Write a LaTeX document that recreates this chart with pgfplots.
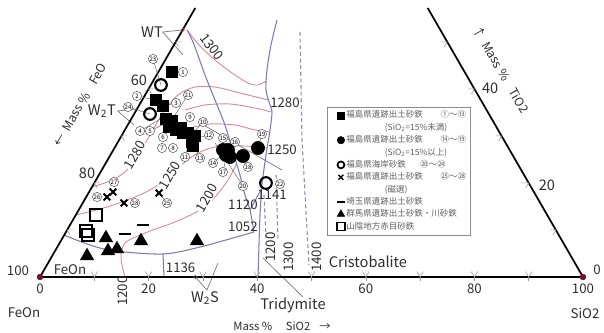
\documentclass[border=0pt]{standalone}
\usepackage{fontspec}
\setmainfont{Noto Sans CJK JP}
\usepackage{pgfplots}
\pgfplotsset{compat=1.18}
\definecolor{pinkc}{RGB}{214,140,150}
\definecolor{bluec}{RGB}{120,124,180}
\definecolor{dashc}{RGB}{140,140,175}
\definecolor{vtx}{RGB}{110,20,40}
\definecolor{tickc}{RGB}{150,150,150}
\definecolor{txt}{RGB}{45,45,45}
\newcommand\fA{\fontsize{10}{12}\selectfont}
\newcommand\fB{\fontsize{11}{13}\selectfont}
\newcommand\fC{\fontsize{8.5}{10}\selectfont}
\newcommand\fD{\fontsize{9.2}{11}\selectfont}
\tikzset{
 lab/.style={font=\fA, text=txt, inner sep=0pt},
 cn/.style={circle, draw=black!70, fill=white, inner sep=0pt, minimum size=7pt, line width=0.35pt, font=\fontsize{4.6}{5}\selectfont},
 ld/.style={black!60, line width=0.35pt},
}
\begin{document}
\begin{tikzpicture}
\useasboundingbox (0,0) rectangle (16cm,8.7947cm);
\begin{axis}[
 at={(0,0)}, anchor=south west,
 width=16cm, height=8.7947cm, scale only axis,
 xmin=-7.366, xmax=103.87, ymin=-10.129, ymax=51.012,
 hide axis, clip=false,
 legend style={at={(axis cs:52.85,31.31)}, anchor=north west, draw=black!45, line width=0.4pt,
   font=\fontsize{6.4}{7}\selectfont, text=black!62, row sep=0.4pt, inner sep=1.8pt,
   nodes={inner sep=1.1pt, text height=5.2pt, text depth=1.5pt}},
 legend cell align=left,
]
% ---- isotherms (pink) ----
\addplot[pinkc, line width=0.7pt, smooth, forget plot] coordinates {(27.07,45.49) (29.47,42.54) (32.23,39.96) (35.36,37.57) (38.31,35.73) (40.15,35.36) (41.62,36.10)};
\addplot[pinkc, line width=0.7pt, smooth, forget plot] coordinates {(9.58,16.57) (12.89,17.68) (15.65,19.34) (18.05,22.47) (20.26,26.15) (22.65,30.20) (25.41,33.52) (28.54,34.99) (32.23,34.99) (36.83,33.89) (41.99,32.60)};
\addplot[pinkc, line width=0.7pt, smooth, forget plot] coordinates {(26.70,30.75) (30.39,31.68) (34.99,31.86) (39.59,31.12) (42.54,30.39)};
\addplot[pinkc, line width=0.7pt, smooth, forget plot] coordinates {(27.62,27.44) (31.31,28.18) (35.91,27.99) (39.59,27.07) (42.36,26.70)};
\addplot[pinkc, line width=0.7pt, smooth, forget plot] coordinates {(6.63,11.42) (11.05,12.52) (15.65,14.00) (20.26,16.02) (23.94,18.60) (26.70,21.18) (29.47,23.02) (33.15,24.12) (37.75,24.12) (41.80,23.76)};
\addplot[pinkc, line width=0.7pt, smooth, forget plot] coordinates {(15.65,0) (14.92,3.50) (15.65,6.26) (19.34,8.10) (24.86,10.13) (29.47,12.34) (32.23,14.73) (34.62,17.86) (36.28,20.99)};
% ---- boundaries (blue) ----
\addplot[bluec, line width=0.8pt, smooth, forget plot] coordinates {(43.65,47.33) (42.54,42.73) (41.80,38.12) (41.62,34.44) (42.36,31.68) (42.73,30.39) (42.36,27.07) (41.62,22.47) (40.88,16.94) (40.52,11.42) (40.33,5.89) (40.15,0)};
\addplot[bluec, line width=0.8pt, smooth, forget plot] coordinates {(27.07,45.49) (28.18,43.28) (30.39,37.20) (32.23,32.60) (34.07,27.99) (35.54,23.02) (36.83,18.78) (37.75,15.10) (38.67,12.34) (39.41,8.29)};
\addplot[bluec, line width=0.8pt, forget plot] coordinates {(38.67,12.34) (40.88,16.39)};
\addplot[bluec, line width=0.8pt, smooth, forget plot] coordinates {(39.41,8.29) (29.47,5.52) (22.65,4.24) (13.81,4.79) (9.21,5.89) (4.42,7.73)};
\addplot[bluec, line width=0.8pt, forget plot] coordinates {(22.65,4.24) (22.84,0)};
% ---- silica isotherms (dashed) ----
\addplot[dashc, line width=0.8pt, dash pattern=on 3pt off 2pt, forget plot] coordinates {(47.88,45.12) (48.25,25.23) (49.54,2.21)};
\addplot[dashc, line width=0.8pt, dash pattern=on 3pt off 2pt, forget plot] coordinates {(43.46,18.78) (43.83,6.81)};
\addplot[dashc, line width=0.8pt, dash pattern=on 3pt off 2pt, forget plot] coordinates {(41.25,15.10) (41.62,7.18)};
% other thin lines
\addplot[black!55, line width=0.5pt, forget plot] coordinates {(41.07,3.50) (48.43,-3.68)};
\addplot[black!55, line width=0.5pt, forget plot] coordinates {(29.47,28.36) (44.57,19.70)};
\addplot[black!55, line width=0.5pt, forget plot] coordinates {(26.26,45.49) (22.6,45.12) (26.33,40.88)};
\addplot[black!55, line width=0.5pt, forget plot] coordinates {(17.68,30.94) (14.3,30.57) (17.31,27.99)};
\addplot[black!55, line width=0.5pt, forget plot] coordinates {(28.6,0) (30.75,-2.39) (32.78,2.58)};
% ---- triangle edges ----
\addplot[black, line width=1.3pt, forget plot] coordinates {(28.6,49.54) (0,0) (100,0) (71.4,49.54)};
\pgfplotsinvokeforeach{10,20,...,90}{
  \draw[tickc, line width=0.4pt] (axis cs:#1-0.6,1.0) -- (axis cs:#1,0) -- (axis cs:#1+0.6,1.0);
  \draw[tickc, line width=0.4pt] (axis cs:#1,0) -- (axis cs:#1,-0.7);
}
\pgfplotsinvokeforeach{10,20,...,50}{
  \draw[tickc, line width=0.4pt] (axis cs:0.5*#1+1.1,0.866*#1) -- (axis cs:0.5*#1,0.866*#1) -- (axis cs:0.5*#1+0.55,0.866*#1-0.95);
  \draw[tickc, line width=0.4pt] (axis cs:100-0.5*#1-1.1,0.866*#1) -- (axis cs:100-0.5*#1,0.866*#1) -- (axis cs:100-0.5*#1-0.55,0.866*#1-0.95);
}
\addplot[only marks, mark=*, mark size=2.2pt, vtx, forget plot] coordinates {(0,0) (100,0)};
\addplot[only marks, mark=o, mark size=1.4pt, pinkc!70!black, forget plot] coordinates {(26.26,45.49) (28.6,0)};
% ---- leader lines ----
\draw[ld] (axis cs:20.81,40.15) -- (axis cs:22.28,35.36);
\draw[ld] (axis cs:26.33,37.75) -- (axis cs:24.30,37.75);
\draw[ld] (axis cs:17.86,33.33) -- (axis cs:21.36,32.60);
\draw[ld] (axis cs:25.05,32.04) -- (axis cs:22.65,31.49);
\draw[ld] (axis cs:27.26,33.52) -- (axis cs:24.86,29.83);
\draw[ld] (axis cs:16.21,31.31) -- (axis cs:20.26,30.02);
\draw[ld] (axis cs:18.42,26.89) -- (axis cs:22.47,29.28);
\draw[ld] (axis cs:20.26,26.89) -- (axis cs:23.57,28.54);
\draw[ld] (axis cs:27.62,29.47) -- (axis cs:26.33,27.44);
\draw[ld] (axis cs:30.02,28.54) -- (axis cs:28.18,26.52);
\draw[ld] (axis cs:31.12,26.15) -- (axis cs:28.91,25.60);
\draw[ld] (axis cs:26.70,22.10) -- (axis cs:27.62,25.60);
\draw[ld] (axis cs:29.47,21.92) -- (axis cs:28.36,24.12);
\draw[ld] (axis cs:23.39,13.63) -- (axis cs:21.91,15.47);
\draw[ld] (axis cs:31.86,20.99) -- (axis cs:33.52,22.47);
\draw[ld] (axis cs:33.70,19.34) -- (axis cs:34.25,21.91);
\draw[ld] (axis cs:38.31,20.26) -- (axis cs:37.38,22.10);
\draw[ld] (axis cs:40.88,26.33) -- (axis cs:40.15,23.76);
\draw[ld] (axis cs:37.38,16.76) -- (axis cs:32.23,24.68);
% ---- data (SiO2 s, TiO2 t in mass %) ----
\addplot[only marks, mark=square*, mark size=4.3pt, black, forget plot] table[x expr=\thisrow{s}+0.5*\thisrow{t}, y expr=0.866*\thisrow{t}] {
s t
2.51 43.59
2.54 37.64
4.47 36.36
6.40 33.60
7.72 33.17
7.81 31.90
9.42 31.26
10.13 31.69
11.03 30.62
11.95 30.62
13.56 29.98
13.64 28.71
14.25 27.86
};
\addplot[only marks, mark=*, mark size=5pt, black, forget plot] table[x expr=\thisrow{s}+0.5*\thisrow{t}, y expr=0.866*\thisrow{t}] {
s t
20.20 27.01
21.28 25.94
22.23 25.52
21.12 27.01
24.51 25.73
26.43 27.43
};
\addplot[only marks, mark=o, mark size=4.4pt, line width=1.6pt, black, mark options={fill=white}, forget plot] table[x expr=\thisrow{s}+0.5*\thisrow{t}, y expr=0.866*\thisrow{t}] {
s t
1.86 40.83
2.93 34.66
31.62 19.99
};
\addplot[only marks, mark=x, mark size=3.6pt, line width=1.4pt, black, forget plot] table[x expr=\thisrow{s}+0.5*\thisrow{t}, y expr=0.866*\thisrow{t}] {
s t
4.40 18.08
3.83 17.01
7.60 15.74
12.99 17.86
};
\addplot[only marks, mark=-, mark size=4.5pt, line width=2.1pt, black, forget plot] table[x expr=\thisrow{s}+0.5*\thisrow{t}, y expr=0.866*\thisrow{t}] {
s t
13.44 11.06
11.08 9.14
};
\addplot[only marks, mark=triangle*, mark size=5.8pt, black, forget plot] table[x expr=\thisrow{s}+0.5*\thisrow{t}, y expr=0.866*\thisrow{t}] {
s t
8.00 8.29
6.43 4.47
9.76 5.53
11.20 5.95
14.77 7.66
25.08 7.66
};
\addplot[only marks, mark=square, mark size=4.5pt, line width=1pt, black, forget plot] table[x expr=\thisrow{s}+0.5*\thisrow{t}, y expr=0.866*\thisrow{t}] {
s t
3.72 13.18
3.58 9.78
4.37 8.93
};
% ---- circled sample numbers ----
\node[cn] at (axis cs:26.33,37.75) {1};
\node[cn] at (axis cs:17.86,33.33) {2};
\node[cn] at (axis cs:25.05,32.04) {3};
\node[cn] at (axis cs:18.42,26.89) {4};
\node[cn] at (axis cs:20.26,26.89) {5};
\node[cn] at (axis cs:22.65,25.78) {6};
\node[cn] at (axis cs:22.47,23.76) {7};
\node[cn] at (axis cs:24.49,23.76) {8};
\node[cn] at (axis cs:27.62,29.47) {9};
\node[cn] at (axis cs:30.02,28.54) {10};
\node[cn] at (axis cs:26.70,22.10) {11};
\node[cn] at (axis cs:31.12,26.15) {12};
\node[cn] at (axis cs:29.47,21.92) {13};
\node[cn] at (axis cs:31.86,20.99) {14};
\node[cn] at (axis cs:33.70,25.60) {15};
\node[cn] at (axis cs:35.91,24.86) {16};
\node[cn] at (axis cs:33.70,19.34) {17};
\node[cn] at (axis cs:38.31,20.26) {18};
\node[cn] at (axis cs:40.88,26.33) {19};
\node[cn] at (axis cs:37.38,16.76) {20};
\node[cn] at (axis cs:27.26,33.52) {21};
\node[cn] at (axis cs:44.20,17.13) {22};
\node[cn] at (axis cs:20.81,40.15) {23};
\node[cn] at (axis cs:16.21,31.31) {24};
\node[cn] at (axis cs:23.39,13.63) {25};
\node[cn] at (axis cs:10.50,14.73) {26};
\node[cn] at (axis cs:13.63,17.50) {27};
\node[cn] at (axis cs:17.50,13.63) {28};
% ---- text ----
\node[lab] at (axis cs:0,-2.21) {0};
\node[lab] at (axis cs:20,-2.21) {20};
\node[lab] at (axis cs:40,-2.21) {40};
\node[lab] at (axis cs:60,-2.21) {60};
\node[lab] at (axis cs:80,-2.21) {80};
\node[lab] at (axis cs:100,-2.21) {100};
\node[lab] at (axis cs:-4.05,1.10) {100};
\node[lab] at (axis cs:102.58,1.29) {0};
\node[lab] at (axis cs:5.52,1.29) {FeOn};
\node[lab] at (axis cs:-2.95,-6.63) {FeOn};
\node[lab] at (axis cs:100.37,-6.63) {SiO2};
\node[lab, font=\fC] at (axis cs:44.57,-9.02) {Mass \%\hspace{1.2em}SiO2\hspace{0.8em}→};
\node[lab, font=\fB] at (axis cs:18.23,36.28) {60};
\node[lab, font=\fB] at (axis cs:8.66,19.15) {80};
\node[lab, font=\fB] at (axis cs:82.9,34.8) {40};
\node[lab, font=\fB] at (axis cs:93.37,16.94) {20};
\node[lab, font=\fD, rotate=60] at (axis cs:7.37,31.68) {←\hspace{0.5em}Mass \%\hspace{0.9em}FeO};
\node[lab, font=\fD, rotate=-60] at (axis cs:84.9,38.2) {↑\hspace{0.5em}Mass \%\hspace{0.9em}TiO2};
\node[lab, font=\fB] at (axis cs:20.63,45.12) {WT};
\node[lab, font=\fB] at (axis cs:11.40,30.57) {W\textsubscript{2}T};
\node[lab, font=\fB] at (axis cs:30.39,-3.87) {W\textsubscript{2}S};
\node[lab, font=\fB] at (axis cs:60.40,2.76) {Cristobalite};
\node[lab, font=\fB] at (axis cs:46.59,-5.16) {Tridymite};
\node[lab, rotate=90] at (axis cs:51.01,3.68) {1400};
\node[lab, rotate=90] at (axis cs:45.86,3.68) {1300};
\node[lab, rotate=90] at (axis cs:42.54,5.52) {1200};
\node[lab, rotate=90] at (axis cs:15.29,-2.58) {1200};
\node[lab] at (axis cs:25.9,1.66) {1136};
\node[lab] at (axis cs:37.38,9.21) {1052};
\node[lab] at (axis cs:37.38,13.26) {1120};
\node[lab] at (axis cs:42.73,15.10) {1141};
\node[lab] at (axis cs:44.57,23.39) {1250};
\node[lab] at (axis cs:45.12,32.04) {1280};
\node[lab, rotate=-52] at (axis cs:31.68,42.36) {1300};
\node[lab, rotate=60, fill=white, inner sep=0.6pt] at (axis cs:17.50,22.47) {1280};
\node[lab, rotate=60, fill=white, inner sep=0.6pt] at (axis cs:23.94,18.78) {1250};
\node[lab, rotate=60, fill=white, inner sep=0.6pt] at (axis cs:30.75,14.55) {1200};
% ---- legend ----
\addlegendimage{only marks, mark=square*, mark size=2.8pt, black}
\addlegendentry{\makebox[71pt][l]{福島県遺跡出土砂鉄}①～⑬}
\addlegendimage{empty legend}
\addlegendentry{\hspace*{29pt}(SiO\textsubscript{2}=15\%未満)}
\addlegendimage{only marks, mark=*, mark size=2.8pt, black}
\addlegendentry{\makebox[71pt][l]{福島県遺跡出土砂鉄}⑭～⑲}
\addlegendimage{empty legend}
\addlegendentry{\hspace*{29pt}(SiO\textsubscript{2}=15\%以上)}
\addlegendimage{only marks, mark=o, mark size=2.6pt, line width=1.3pt, black}
\addlegendentry{\makebox[55.6pt][l]{福島県海岸砂鉄}⑳～㉔}
\addlegendimage{only marks, mark=x, mark size=2.6pt, line width=1.1pt, black}
\addlegendentry{\makebox[71pt][l]{福島県遺跡出土砂鉄}㉕～㉘}
\addlegendimage{empty legend}
\addlegendentry{\hspace*{29pt}(磁選)}
\addlegendimage{only marks, mark=-, mark size=3pt, line width=1.2pt, black}
\addlegendentry{埼玉県遺跡出土砂鉄}
\addlegendimage{only marks, mark=triangle*, mark size=3.3pt, black}
\addlegendentry{群馬県遺跡出土砂鉄・川砂鉄}
\addlegendimage{only marks, mark=square, mark size=3pt, line width=0.9pt, black}
\addlegendentry{山陰地方赤目砂鉄}
\end{axis}
\end{tikzpicture}
\end{document}
